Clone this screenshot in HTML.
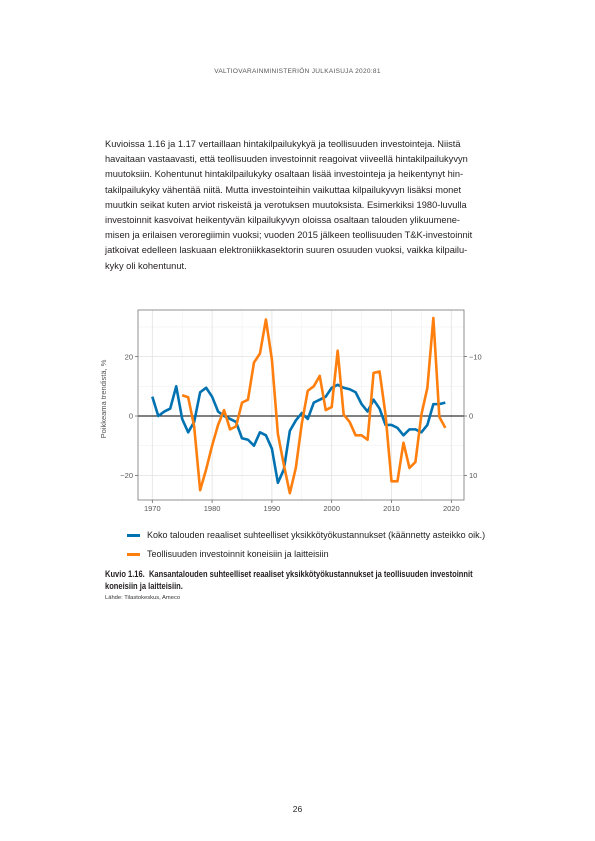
<!DOCTYPE html>
<html><head><meta charset="utf-8">
<style>
body{margin:0;background:#fff;}
#page{position:relative;width:595px;height:841px;background:#fff;font-family:"Liberation Sans",sans-serif;color:#231f20;overflow:hidden;}
.hdr{position:absolute;top:68px;left:0;width:595px;text-align:center;font-size:6.5px;letter-spacing:0.3px;color:#555;}
.body{position:absolute;left:105px;top:137px;width:400px;font-size:9.3px;line-height:15.2px;}
.body div{white-space:nowrap;}
.leg{position:absolute;left:127px;font-size:9px;color:#222;white-space:nowrap;}
.leg span.sw{display:inline-block;width:13px;height:3px;vertical-align:middle;margin-right:7px;}
.cap{position:absolute;left:105px;top:568px;font-weight:bold;font-size:9.2px;line-height:12px;transform:scaleX(0.82);transform-origin:left top;white-space:nowrap;}
.src{position:absolute;left:105px;top:595px;font-size:5.8px;color:#333;}
.pn{position:absolute;top:804px;left:0;width:595px;text-align:center;font-size:8.5px;}
</style></head>
<body><div id="page">
<div class="hdr">VALTIOVARAINMINISTERIÖN JULKAISUJA 2020:81</div>
<div class="body">
<div>Kuvioissa 1.16 ja 1.17 vertaillaan hintakilpailukykyä ja teollisuuden investointeja. Niistä</div>
<div>havaitaan vastaavasti, että teollisuuden investoinnit reagoivat viiveellä hintakilpailukyvyn</div>
<div>muutoksiin. Kohentunut hintakilpailukyky osaltaan lisää investointeja ja heikentynyt hin-</div>
<div>takilpailukyky vähentää niitä. Mutta investointeihin vaikuttaa kilpailukyvyn lisäksi monet</div>
<div>muutkin seikat kuten arviot riskeistä ja verotuksen muutoksista. Esimerkiksi 1980-luvulla</div>
<div>investoinnit kasvoivat heikentyvän kilpailukyvyn oloissa osaltaan talouden ylikuumene-</div>
<div>misen ja erilaisen veroregiimin vuoksi; vuoden 2015 jälkeen teollisuuden T&amp;K-investoinnit</div>
<div>jatkoivat edelleen laskuaan elektroniikkasektorin suuren osuuden vuoksi, vaikka kilpailu-</div>
<div>kyky oli kohentunut.</div>
</div>
<svg id="chart" style="position:absolute;left:0;top:0" width="595" height="841"></svg>
<div class="leg" style="top:530px"><span class="sw" style="background:#0072b2"></span>Koko talouden reaaliset suhteelliset yksikkötyökustannukset (käännetty asteikko oik.)</div>
<div class="leg" style="top:549px"><span class="sw" style="background:#ff7f0e"></span>Teollisuuden investoinnit koneisiin ja laitteisiin</div>
<div class="cap">Kuvio 1.16.&nbsp; Kansantalouden suhteelliset reaaliset yksikkötyökustannukset ja teollisuuden investoinnit<br>koneisiin ja laitteisiin.</div>
<div class="src">Lähde: Tilastokeskus, Ameco</div>
<div class="pn">26</div>
</div>
<script>
const blueYears=[1970,1971,1972,1973,1974,1975,1976,1977,1978,1979,1980,1981,1982,1983,1984,1985,1986,1987,1988,1989,1990,1991,1992,1993,1994,1995,1996,1997,1998,1999,2000,2001,2002,2003,2004,2005,2006,2007,2008,2009,2010,2011,2012,2013,2014,2015,2016,2017,2018,2019];
// right axis (reversed) values
const blueValues=[-3.25,0,-0.75,-1.25,-5,0.5,2.75,1,-4,-4.75,-3.25,-0.75,0,0.5,1,3.75,4,5,2.75,3.25,5.5,11.25,9,2.5,0.75,-0.5,0.5,-2.25,-2.75,-3.25,-4.75,-5.25,-4.75,-4.5,-4,-2,-0.75,-2.75,-1.25,1.5,1.5,2,3.25,2.25,2.25,2.75,1.5,-2,-2,-2.25];
const orangeYears=[1975,1976,1977,1978,1979,1980,1981,1982,1983,1984,1985,1986,1987,1988,1989,1990,1991,1992,1993,1994,1995,1996,1997,1998,1999,2000,2001,2002,2003,2004,2005,2006,2007,2008,2009,2010,2011,2012,2013,2014,2015,2016,2017,2018,2019];
const orangeValues=[7,6.3,-3.5,-25,-18,-10,-3,2,-4.5,-3.5,4.5,5.5,18,21,32.5,19,-6,-16.5,-26,-17.5,-2.5,8.5,10,13.5,2,3,22,0.5,-2,-6.5,-6.5,-8,14.5,15,0.5,-22,-22,-9,-17.5,-15.5,0.5,9.5,33,-0.3,-4];
const xTicks=[1970,1980,1990,2000,2010,2020];
const leftTicks=[20,0,-20];
const rightTicks=[-10,0,10];

const NS="http://www.w3.org/2000/svg";
const svg=document.getElementById('chart');
const L=138,R=464,T=310,B=500;
const xs=y=>152.3+(y-1970)*5.98;
const yl=v=>416-v*2.97;
const yr=v=>yl(-2*v);
function mk(tag,attrs,parent){const e=document.createElementNS(NS,tag);for(const k in attrs)e.setAttribute(k,attrs[k]);(parent||svg).appendChild(e);return e;}
[-10,10,30].forEach(v=>{const g=mk('line',{x1:L,x2:R,y1:yl(v),y2:yl(v),stroke:'#f0f0f0','stroke-width':0.6});

});
[1975,1985,1995,2005,2015].forEach(v=>{const g=mk('line',{x1:xs(v),x2:xs(v),y1:T,y2:B,stroke:'#f0f0f0','stroke-width':0.6});

});
xTicks.forEach(t=>{const g=mk('line',{x1:xs(t),x2:xs(t),y1:T,y2:B,stroke:'#e2e2e2','stroke-width':0.8});


const tk=mk('line',{x1:xs(t),x2:xs(t),y1:B,y2:B+3,stroke:'#555','stroke-width':0.7});


const tx=mk('text',{x:xs(t),y:B+11,'text-anchor':'middle','font-size':7.5,fill:'#555','font-family':'Liberation Sans, sans-serif'});tx.textContent=t;

});
leftTicks.forEach(t=>{if(t!==0){const g=mk('line',{x1:L,x2:R,y1:yl(t),y2:yl(t),stroke:'#e2e2e2','stroke-width':0.8});

}
const tk=mk('line',{x1:L-3,x2:L,y1:yl(t),y2:yl(t),stroke:'#555','stroke-width':0.7});


const tx=mk('text',{x:L-5,y:yl(t)+2.7,'text-anchor':'end','font-size':7.5,fill:'#555','font-family':'Liberation Sans, sans-serif'});tx.textContent=(t<0?'\u2212'+(-t):t);

});
rightTicks.forEach(t=>{const tk=mk('line',{x1:R,x2:R+3,y1:yr(t),y2:yr(t),stroke:'#555','stroke-width':0.7});


const tx=mk('text',{x:R+5,y:yr(t)+2.7,'text-anchor':'start','font-size':7.5,fill:'#555','font-family':'Liberation Sans, sans-serif'});tx.textContent=(t<0?'\u2212'+(-t):t);

});
const zl=mk('line',{x1:L,x2:R,y1:yl(0),y2:yl(0),stroke:'#000','stroke-width':0.9});


const fr=mk('rect',{x:L,y:T,width:R-L,height:B-T,fill:'none',stroke:'#777','stroke-width':0.8});


const yt=mk('text',{x:0,y:0,transform:`translate(106,${(T+B)/2-6}) rotate(-90)`,'text-anchor':'middle','font-size':7.5,fill:'#555','font-family':'Liberation Sans, sans-serif'});yt.textContent='Poikkeama trendistä, %';


const bp=mk('polyline',{points:blueYears.map((y,i)=>xs(y)+','+yr(blueValues[i])).join(' '),fill:'none',stroke:'#0072b2','stroke-width':2.6,'stroke-linejoin':'round'});


const op=mk('polyline',{points:orangeYears.map((y,i)=>xs(y)+','+yl(orangeValues[i])).join(' '),fill:'none',stroke:'#ff7f0e','stroke-width':2.6,'stroke-linejoin':'round'});


</script>
</body></html>
